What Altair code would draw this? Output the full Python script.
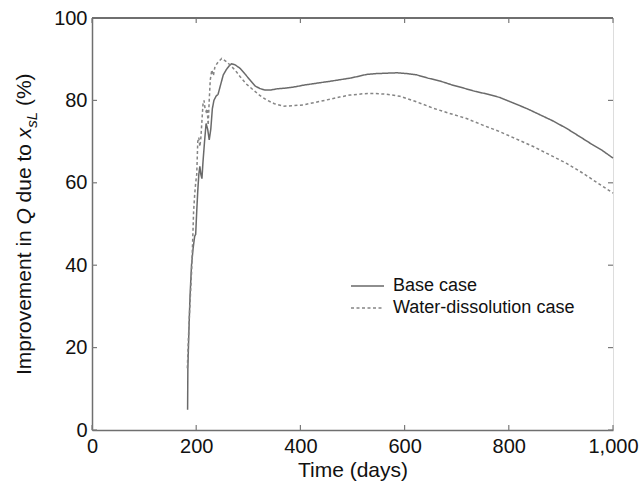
import altair as alt
import pandas as pd

# ---- data ----
base_days = [183.5, 184, 186, 188, 191, 194, 197, 199, 201, 203, 205, 207, 209, 211, 213, 216, 219, 222,
             225, 228, 231, 234, 238, 242, 246, 252, 258, 264, 268, 275, 284, 293, 303, 313, 322, 332,
             342, 355, 373, 390, 406, 422, 438, 455, 470, 495, 510, 527, 545, 565, 585, 605, 623, 645,
             668, 690, 713, 735, 760, 783, 810, 835, 860, 885, 911, 935, 960, 980, 1000]
base_vals = [4.9, 15, 24, 32, 40, 44, 47, 47.5, 53, 58, 62, 64, 62, 61, 65, 70, 74.4, 73,
             70.4, 73, 78, 80, 81, 81.5, 83.4, 86.2, 87.5, 88.5, 88.9, 88.6, 87.8, 86.5, 85, 83.5, 82.9, 82.5,
             82.5, 82.8, 83, 83.3, 83.7, 84, 84.3, 84.6, 84.9, 85.4, 85.8, 86.3, 86.5, 86.6, 86.7, 86.5, 86.2, 85.4,
             84.7, 83.8, 83, 82.2, 81.5, 80.7, 79.3, 78, 76.5, 75, 73.2, 71.3, 69.3, 67.8, 66]

water_days = [183, 185, 187, 189, 191, 193, 195, 197, 199, 201, 203, 205, 207, 209, 211, 213, 215, 217,
              219, 221, 223, 225, 227, 230, 233, 236, 242, 249, 257, 265, 275, 284, 296, 310, 322, 335,
              350, 367, 385, 405, 428, 450, 475, 495, 520, 540, 565, 591, 620, 655, 685, 719, 750, 783,
              815, 847, 880, 911, 940, 970, 1000]
water_vals = [15, 22, 28, 33, 38, 45, 53, 57, 60, 62, 70, 71, 68.8, 71, 75, 79, 80, 78,
              77.3, 78, 74, 80, 85, 87.4, 86, 88.2, 89.3, 90.2, 89.5, 88.6, 87.3, 85.8, 84, 82.5, 81.2, 80.1,
              79.2, 78.6, 78.7, 78.9, 79.5, 80.1, 80.8, 81.3, 81.6, 81.7, 81.5, 81, 79.8, 78.1, 76.9, 75.6, 74, 72.4,
              70.6, 68.8, 66.7, 64.7, 62.5, 60, 57.5]

series_names = ["Base case", "Water-dissolution case"]
x_ticks = [0, 200, 400, 600, 800, 1000]
y_ticks = [0, 20, 40, 60, 80, 100]

# y-axis title pieces: text, italic?, font size, along-axis start, across-axis offset
ytitle_text = ["Improvement in", "Q", "due to", "x", "sL", "(%)"]
ytitle_italic = [False, True, False, True, True, False]
ytitle_size = [21, 21, 21, 21, 15, 21]
ytitle_pos = [357, 206.5, 184.4, 120.2, 109.7, 88.1]
ytitle_dx = [-61, -61, -61, -61, -55, -61]

# ---- tables ----
df = pd.concat([
    pd.DataFrame({"day": base_days, "val": base_vals, "case": series_names[0], "order": range(len(base_days))}),
    pd.DataFrame({"day": water_days, "val": water_vals, "case": series_names[1], "order": range(len(water_days))}),
])
xt = pd.DataFrame({"t": x_ticks})
yt = pd.DataFrame({"t": y_ticks})
yti = pd.DataFrame({"text": ytitle_text, "italic": ytitle_italic, "size": ytitle_size,
                    "pos": ytitle_pos, "dx": ytitle_dx})

W, H = 521, 412
FONT = "Liberation Sans"
DARK = "#6f6f6f"

xscale = alt.Scale(domain=[0, 1000], nice=False)
yscale = alt.Scale(domain=[0, 100], nice=False)

lines = alt.Chart(df).mark_line(strokeWidth=1.5).encode(
    x=alt.X("day:Q", scale=xscale,
            axis=alt.Axis(values=x_ticks, format=",d", labelFontSize=20, labelPadding=6, ticks=False,
                          grid=False, domainColor=DARK, domainWidth=1.5, labelColor="#111",
                          title="Time (days)", titleFontSize=21, titleFontWeight="normal",
                          titlePadding=3, titleColor="#111", labelFlush=False)),
    y=alt.Y("val:Q", scale=yscale,
            axis=alt.Axis(values=y_ticks, labelFontSize=20, labelPadding=5, ticks=False, grid=False,
                          domainColor=DARK, domainWidth=1.5, labelColor="#111", title=None)),
    color=alt.Color("case:N", scale=alt.Scale(domain=series_names, range=["#6a6a6a", "#858585"]),
                    legend=alt.Legend(title=None, orient="none", legendX=266.5, legendY=259,
                                      symbolType="M-3.3,0H3.3", symbolSize=100, symbolStrokeWidth=1.5,
                                      labelFontSize=18, labelColor="#111", labelOffset=16.5,
                                      labelLimit=0, padding=0, rowPadding=4, labelFont=FONT)),
    strokeDash=alt.StrokeDash("case:N", scale=alt.Scale(domain=series_names, range=[[1, 0], [3, 2.5]]),
                              legend=None),
    order="order:Q",
)

tick_style = dict(color="#7a7a7a", strokeWidth=1.2)
bottom_ticks = alt.Chart(xt).mark_rule(**tick_style).encode(
    x=alt.X("t:Q", scale=xscale), y=alt.value(H), y2=alt.value(H - 5))
top_ticks = alt.Chart(xt).mark_rule(**tick_style).encode(
    x=alt.X("t:Q", scale=xscale), y=alt.value(0), y2=alt.value(5))
left_ticks = alt.Chart(yt).mark_rule(**tick_style).encode(
    y=alt.Y("t:Q", scale=yscale), x=alt.value(0), x2=alt.value(5))
right_ticks = alt.Chart(yt).mark_rule(**tick_style).encode(
    y=alt.Y("t:Q", scale=yscale), x=alt.value(W), x2=alt.value(W - 5))
top_border = alt.Chart(xt).mark_rule(color=DARK, strokeWidth=1.5).encode(
    x=alt.value(0), x2=alt.value(W), y=alt.value(0))


def title_part(italic):
    return alt.Chart(yti).transform_filter(
        alt.datum.italic == italic
    ).mark_text(angle=270, align="left", baseline="alphabetic", font=FONT, color="#111",
                fontStyle="italic" if italic else "normal").encode(
        x=alt.X("dx:Q", scale=None), y=alt.Y("pos:Q", scale=None), text="text:N",
        size=alt.Size("size:Q", scale=None, legend=None))


chart = alt.layer(lines, bottom_ticks, top_ticks, left_ticks, right_ticks, top_border,
                  title_part(False), title_part(True)).properties(
    width=W, height=H,
    autosize=alt.AutoSizeParams(type="none"),
    padding={"left": 92, "top": 18, "right": 29, "bottom": 61},
).configure_view(fill="#f8f8f8", stroke="#d6d6d6", strokeWidth=1).configure(
    font=FONT, background="white")

chart.save("out.html", embed_options={"renderer": "svg", "actions": False})
